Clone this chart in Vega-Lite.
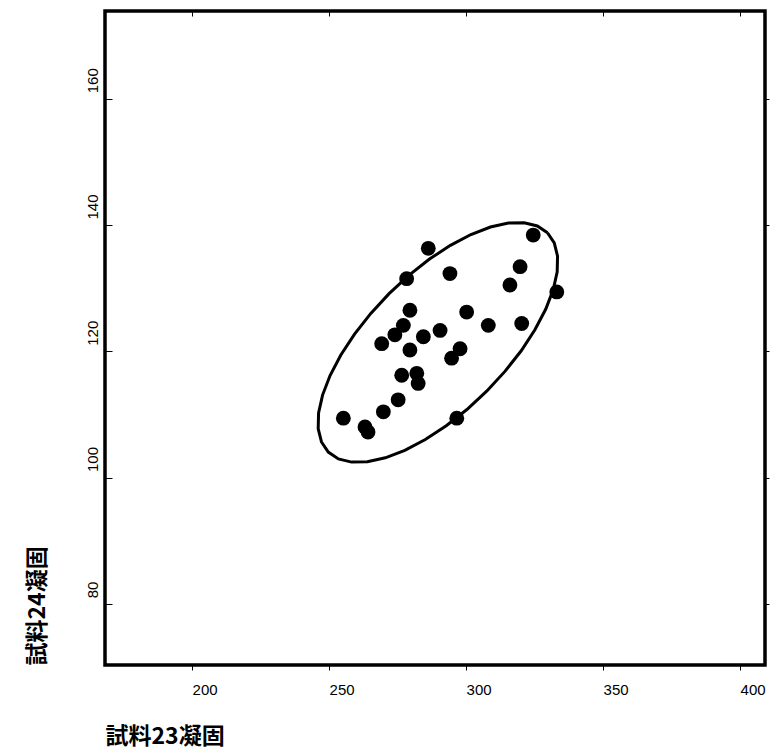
{
  "$schema": "https://vega.github.io/schema/vega-lite/v6.json",
  "autosize": {"type": "none"},
  "width": 660,
  "height": 654,
  "padding": {"left": 105, "top": 11, "right": 13, "bottom": 90},
  "background": "white",
  "config": {
    "view": {"stroke": "black", "strokeWidth": 3.5},
    "axis": {"domain": false, "grid": false, "tickColor": "black", "labelColor": "black", "labelFont": "Liberation Sans", "labelFontSize": 15, "titleColor": "black"}
  },
  "datasets": {
    "pts": [
      {"x": 286.2, "y": 136.3}, {"x": 324.5, "y": 138.4}, {"x": 278.3, "y": 131.5}, {"x": 294.1, "y": 132.3},
      {"x": 319.7, "y": 133.4}, {"x": 316.0, "y": 130.5}, {"x": 333.1, "y": 129.4}, {"x": 279.5, "y": 126.5},
      {"x": 300.2, "y": 126.2}, {"x": 308.1, "y": 124.1}, {"x": 320.3, "y": 124.4}, {"x": 277.1, "y": 124.1},
      {"x": 269.2, "y": 121.2}, {"x": 274.0, "y": 122.6}, {"x": 279.5, "y": 120.2}, {"x": 284.4, "y": 122.3},
      {"x": 290.5, "y": 123.3}, {"x": 297.8, "y": 120.4}, {"x": 294.7, "y": 118.9}, {"x": 276.5, "y": 116.2},
      {"x": 282.0, "y": 116.5}, {"x": 282.5, "y": 114.9}, {"x": 275.2, "y": 112.3}, {"x": 269.8, "y": 110.4},
      {"x": 255.2, "y": 109.4}, {"x": 263.1, "y": 108.0}, {"x": 264.2, "y": 107.2}, {"x": 296.6, "y": 109.4}
    ],
    "ell": [
      {"i": 0, "x": 329.70, "y": 138.77}, {"i": 1, "x": 332.18, "y": 137.17}, {"i": 2, "x": 333.38, "y": 135.08},
      {"i": 3, "x": 333.25, "y": 132.57}, {"i": 4, "x": 331.79, "y": 129.74}, {"i": 5, "x": 329.05, "y": 126.65},
      {"i": 6, "x": 325.12, "y": 123.40}, {"i": 7, "x": 320.12, "y": 120.08}, {"i": 8, "x": 314.18, "y": 116.81},
      {"i": 9, "x": 307.51, "y": 113.67}, {"i": 10, "x": 300.30, "y": 110.77}, {"i": 11, "x": 292.76, "y": 108.20},
      {"i": 12, "x": 285.12, "y": 106.02}, {"i": 13, "x": 277.63, "y": 104.31}, {"i": 14, "x": 270.51, "y": 103.12},
      {"i": 15, "x": 263.97, "y": 102.49}, {"i": 16, "x": 258.20, "y": 102.44}, {"i": 17, "x": 253.40, "y": 102.95},
      {"i": 18, "x": 249.70, "y": 104.03}, {"i": 19, "x": 247.22, "y": 105.63}, {"i": 20, "x": 246.02, "y": 107.72},
      {"i": 21, "x": 246.15, "y": 110.23}, {"i": 22, "x": 247.61, "y": 113.06}, {"i": 23, "x": 250.35, "y": 116.15},
      {"i": 24, "x": 254.28, "y": 119.40}, {"i": 25, "x": 259.28, "y": 122.72}, {"i": 26, "x": 265.22, "y": 125.99},
      {"i": 27, "x": 271.89, "y": 129.13}, {"i": 28, "x": 279.10, "y": 132.03}, {"i": 29, "x": 286.64, "y": 134.60},
      {"i": 30, "x": 294.28, "y": 136.78}, {"i": 31, "x": 301.77, "y": 138.49}, {"i": 32, "x": 308.89, "y": 139.68},
      {"i": 33, "x": 315.43, "y": 140.31}, {"i": 34, "x": 321.20, "y": 140.36}, {"i": 35, "x": 326.00, "y": 139.85},
      {"i": 36, "x": 329.70, "y": 138.77}
    ]
  },
  "layer": [
    {
      "data": {"name": "pts"},
      "mark": {"type": "point", "filled": true, "shape": "circle", "size": 220, "color": "black", "opacity": 1},
      "encoding": {
        "x": {"field": "x", "type": "quantitative", "scale": {"domain": [168.2, 409.1], "nice": false, "zero": false},
          "axis": {"orient": "bottom", "values": [200, 250, 300, 350, 400], "tickSize": 5, "tickOffset": 0, "labelAlign": "left", "labelPadding": 12, "labelFlush": false,
            "title": "試料23凝固", "titleFont": "Noto Sans CJK JP", "titleFontSize": 23, "titleFontWeight": "bold", "titleAnchor": "start", "titleAlign": "left", "titlePadding": 28}},
        "y": {"field": "y", "type": "quantitative", "scale": {"domain": [70.3, 173.9], "nice": false, "zero": false},
          "axis": {"orient": "left", "values": [80, 100, 120, 140, 160], "tickSize": -7, "labelAngle": -90, "labelAlign": "left", "labelBaseline": "middle", "labelOffset": -6, "labelPadding": 20, "labelFlush": false,
            "title": "試料24凝固", "titleFont": "Noto Sans CJK JP", "titleFontSize": 23, "titleFontWeight": "bold", "titleAnchor": "start", "titleAngle": -90, "titleAlign": "left", "titlePadding": 36}}
      }
    },
    {
      "data": {"name": "ell"},
      "mark": {"type": "line", "color": "black", "strokeWidth": 3},
      "encoding": {
        "order": {"field": "i", "type": "quantitative"},
        "x": {"field": "x", "type": "quantitative", "scale": {"domain": [168.2, 409.1], "nice": false, "zero": false},
          "axis": {"orient": "top", "values": [200, 250, 300, 350, 400], "labels": false, "tickSize": -5, "title": null}},
        "y": {"field": "y", "type": "quantitative", "scale": {"domain": [70.3, 173.9], "nice": false, "zero": false},
          "axis": {"orient": "right", "values": [80, 100, 120, 140, 160], "labels": false, "tickSize": 4, "title": null}}
      }
    }
  ],
  "resolve": {"scale": {"x": "independent", "y": "independent"}}
}
